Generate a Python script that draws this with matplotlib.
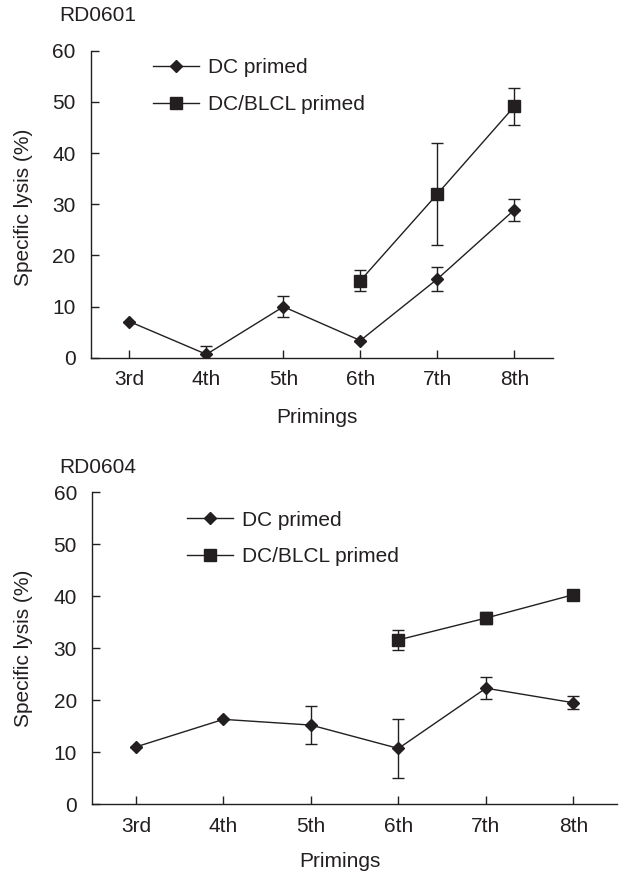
import matplotlib.pyplot as plt

plt.rcParams['font.family'] = ['Liberation Sans', 'DejaVu Sans']

primings = ['3rd', '4th', '5th', '6th', '7th', '8th']

# RD0601
dc_601 = [7.1, 0.7, 10.0, 3.4, 15.4, 28.9]
dc_601_err = [0, 1.7, 2.0, 0, 2.4, 2.2]
blcl_601 = [15.1, 32.0, 49.1]
blcl_601_err = [2.0, 10.0, 3.7]

# RD0604
dc_604 = [11.0, 16.3, 15.2, 10.7, 22.3, 19.5]
dc_604_err = [0, 0, 3.7, 5.6, 2.1, 1.3]
blcl_604 = [31.6, 35.8, 40.3]
blcl_604_err = [2.0, 1.2, 1.0]

ink = '#231f20'
fs = 15

fig = plt.figure(figsize=(6.19, 8.73), dpi=100)


def panel(rect, name, name_y, dc, dc_err, blcl, blcl_err, leg_xy, ylab_xy, xlab_xy):
    ax = fig.add_axes(rect)
    x = list(range(len(primings)))
    xb = x[3:]
    ax.errorbar(x, dc, yerr=dc_err, color=ink, marker='D', markersize=6.5,
                lw=1.0, capsize=4.5, elinewidth=1.0, capthick=1.0,
                label='DC primed')
    ax.errorbar(xb, blcl, yerr=blcl_err, color=ink, marker='s', markersize=9,
                lw=1.0, capsize=4.5, elinewidth=1.0, capthick=1.0,
                label='DC/BLCL primed')
    ax.set_xlim(-0.5, 5.5)
    ax.set_ylim(0, 60)
    ax.set_yticks(range(0, 61, 10))
    ax.set_xticks(x)
    ax.set_xticklabels(primings)
    for s in ['top', 'right']:
        ax.spines[s].set_visible(False)
    for s in ['left', 'bottom']:
        ax.spines[s].set_color(ink)
        ax.spines[s].set_linewidth(1.0)
    ax.tick_params(direction='in', length=6, width=1.0, color=ink,
                   labelsize=fs, labelcolor=ink)
    ax.tick_params(axis='y', pad=11)
    ax.tick_params(axis='x', pad=9)
    ax.set_ylabel('Specific lysis (%)', fontsize=fs, color=ink)
    ax.yaxis.set_label_coords(*ylab_xy)
    ax.yaxis.label.set_verticalalignment('center')
    ax.set_xlabel('Primings', fontsize=fs, color=ink)
    ax.xaxis.set_label_coords(*xlab_xy)
    ax.xaxis.label.set_verticalalignment('center')
    fig.text(0.095, name_y, name, fontsize=fs, color=ink, ha='left', va='center')
    handles, labels = ax.get_legend_handles_labels()
    # drop error bars from the legend handles
    handles = [h[0] for h in handles]
    ax.legend(handles, labels, loc='upper left', bbox_to_anchor=leg_xy,
              bbox_transform=fig.transFigure, frameon=False, fontsize=fs,
              handlelength=2.2, handletextpad=0.45, labelspacing=0.85,
              borderpad=0, borderaxespad=0, labelcolor=ink)
    return ax


panel([0.147, 0.590, 0.746, 0.352], 'RD0601', 0.982, dc_601, dc_601_err,
      blcl_601, blcl_601_err, (0.247, 0.933), (-0.147, 0.49), (0.49, -0.195))
panel([0.149, 0.079, 0.848, 0.357], 'RD0604', 0.465, dc_604, dc_604_err,
      blcl_604, blcl_604_err, (0.302, 0.415), (-0.131, 0.5), (0.472, -0.183))

fig.savefig('out.png', dpi=100)
